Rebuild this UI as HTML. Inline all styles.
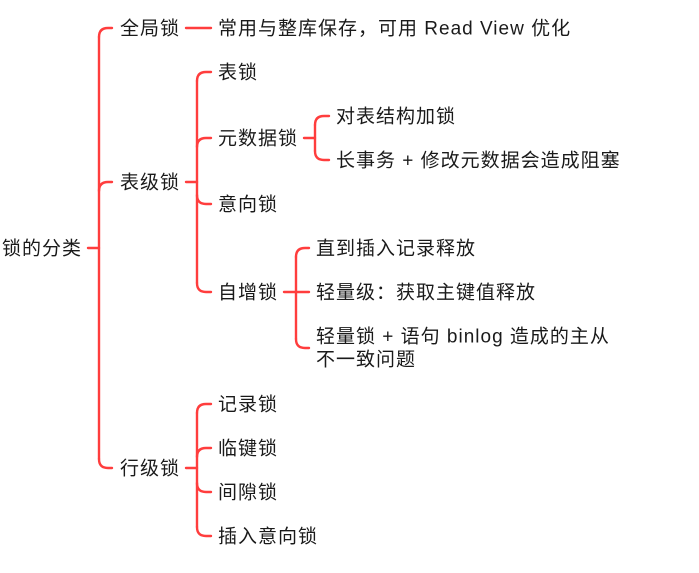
<!DOCTYPE html>
<html><head><meta charset="utf-8"><style>
html,body{margin:0;padding:0;background:#fff;}
svg{display:block}
text{font-family:"Liberation Sans","Noto Sans CJK SC",sans-serif;font-size:19px;fill:#1a1a1a;dominant-baseline:central;letter-spacing:1px}
path{fill:none;stroke:#ff3d3d;stroke-width:2.4;stroke-linecap:round}
</style></head><body>
<svg width="699" height="573" viewBox="0 0 699 573" xmlns="http://www.w3.org/2000/svg">
<g transform="translate(0,1)">
<text x="2" y="248">锁的分类</text>
<text x="120" y="28">全局锁</text>
<text x="218" y="28">常用与整库保存，可用 Read View 优化</text>
<text x="120" y="182">表级锁</text>
<text x="218" y="72">表锁</text>
<text x="218" y="138">元数据锁</text>
<text x="218" y="204">意向锁</text>
<text x="218" y="292">自增锁</text>
<text x="336" y="116">对表结构加锁</text>
<text x="336" y="160">长事务 + 修改元数据会造成阻塞</text>
<text x="316" y="248">直到插入记录释放</text>
<text x="316" y="292">轻量级：获取主键值释放</text>
<text x="316" y="336">轻量锁 + 语句 binlog 造成的主从</text>
<text x="316" y="359">不一致问题</text>
<text x="120" y="468">行级锁</text>
<text x="218" y="404">记录锁</text>
<text x="218" y="448">临键锁</text>
<text x="218" y="492">间隙锁</text>
<text x="218" y="536">插入意向锁</text>
</g>
<path d="M88 248 H99"/>
<path d="M99 37 V459"/>
<path d="M99 37 Q99 28 108 28 H112"/>
<path d="M99 191 Q99 182 108 182 H112"/>
<path d="M99 459 Q99 468 108 468 H112"/>
<path d="M186 28 H211"/>
<path d="M186 182 H197"/>
<path d="M197 81 V283"/>
<path d="M197 81 Q197 72 206 72 H211"/>
<path d="M197 147 Q197 138 206 138 H211"/>
<path d="M197 195 Q197 204 206 204 H211"/>
<path d="M197 283 Q197 292 206 292 H211"/>
<path d="M304 138 H315"/>
<path d="M315 125 V151"/>
<path d="M315 125 Q315 116 324 116 H329"/>
<path d="M315 151 Q315 160 324 160 H329"/>
<path d="M284 292 H309"/>
<path d="M296 257 V339"/>
<path d="M296 257 Q296 248 305 248 H309"/>
<path d="M296 339 Q296 348 305 348 H309"/>
<path d="M186 468 H197"/>
<path d="M197 413 V527"/>
<path d="M197 413 Q197 404 206 404 H211"/>
<path d="M197 457 Q197 448 206 448 H211"/>
<path d="M197 483 Q197 492 206 492 H211"/>
<path d="M197 527 Q197 536 206 536 H211"/>
</svg>
</body></html>
